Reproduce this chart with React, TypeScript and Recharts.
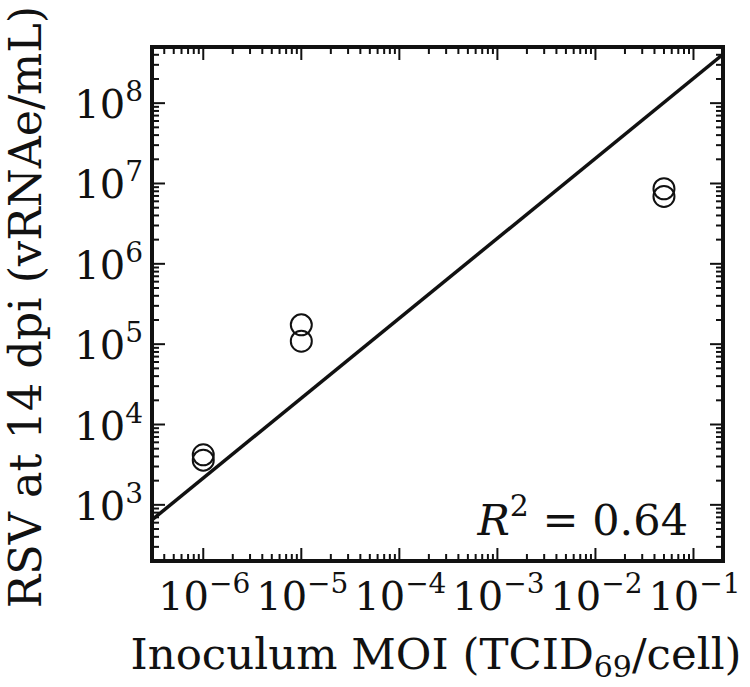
import React from 'react';
import { ScatterChart, Scatter, XAxis, YAxis, ReferenceArea } from 'recharts';

const FONT = 'DejaVu Serif';
const INK = '#111111';

// Measured samples
const moiValues = [1e-6, 1e-6, 1e-5, 1e-5, 0.05, 0.05];
const rsvValues = [4200, 3600, 174000, 109000, 8600000, 6900000];

// Fitted regression line end points
const fitMoi = [3e-7, 0.2];
const fitRsv = [650, 405000000];

// Axes
const xDomain = [3e-7, 0.2];
const yDomain = [200, 5e8];
const xMajorTicks = [1e-6, 1e-5, 1e-4, 1e-3, 1e-2, 1e-1];
const xTickExponents = ['\u22126', '\u22125', '\u22124', '\u22123', '\u22122', '\u22121'];
const yMajorTicks = [1e3, 1e4, 1e5, 1e6, 1e7, 1e8];
const yTickExponents = ['3', '4', '5', '6', '7', '8'];
const minorMultipliers = [2, 3, 4, 5, 6, 7, 8, 9];
const xDecades = [1e-7, 1e-6, 1e-5, 1e-4, 1e-3, 1e-2, 1e-1];
const yDecades = [1e2, 1e3, 1e4, 1e5, 1e6, 1e7, 1e8];

const buildTicks = (majors: number[], decades: number[], dom: number[]) => {
  const minors: number[] = [];
  decades.forEach((d) => minorMultipliers.forEach((m) => {
    const v = d * m;
    if (v > dom[0] * 1.0001 && v < dom[1] * 0.9999) minors.push(v);
  }));
  return [...majors, ...minors].sort((a, b) => a - b);
};

const xTicks = buildTicks(xMajorTicks, xDecades, xDomain);
const yTicks = buildTicks(yMajorTicks, yDecades, yDomain);

const points = moiValues.map((x, i) => ({ x, y: rsvValues[i] }));
const fitLine = fitMoi.map((x, i) => ({ x, y: fitRsv[i] }));

const majorIndex = (list: number[], v: number) =>
  list.findIndex((m) => Math.abs(m - v) / m < 1e-6);

const MAJOR = 13;
const MINOR = 7;
const TICK_FS = 40;
const SUP_FS = 28;

const BottomTick = (props: any) => {
  const { x, y, payload } = props;
  const idx = majorIndex(xMajorTicks, payload.value);
  const major = idx >= 0;
  return (
    <g>
      <line x1={x} x2={x} y1={y} y2={y - (major ? MAJOR : MINOR)} stroke={INK} strokeWidth={2} />
      {major && (
        <text x={x + 1} y={y + 49} textAnchor="middle" style={{ fontFamily: FONT }} fontSize={TICK_FS} fill={INK}>
          <tspan>10</tspan>
          <tspan fontSize={SUP_FS} dy={-17}>{xTickExponents[idx]}</tspan>
        </text>
      )}
    </g>
  );
};

const TopTick = (props: any) => {
  const { x, y, payload } = props;
  const major = majorIndex(xMajorTicks, payload.value) >= 0;
  return <line x1={x} x2={x} y1={y} y2={y + (major ? MAJOR : MINOR)} stroke={INK} strokeWidth={2} />;
};

const LeftTick = (props: any) => {
  const { x, y, payload } = props;
  const idx = majorIndex(yMajorTicks, payload.value);
  const major = idx >= 0;
  return (
    <g>
      <line x1={x} x2={x + (major ? MAJOR : MINOR)} y1={y} y2={y} stroke={INK} strokeWidth={2} />
      {major && (
        <text x={x - 9} y={y + 15} textAnchor="end" style={{ fontFamily: FONT }} fontSize={TICK_FS} fill={INK}>
          <tspan>10</tspan>
          <tspan fontSize={SUP_FS} dy={-17}>{yTickExponents[idx]}</tspan>
        </text>
      )}
    </g>
  );
};

const RightTick = (props: any) => {
  const { x, y, payload } = props;
  const major = majorIndex(yMajorTicks, payload.value) >= 0;
  return <line x1={x} x2={x - (major ? MAJOR : MINOR)} y1={y} y2={y} stroke={INK} strokeWidth={2} />;
};

const Ring = (p: any) => (
  <circle cx={p.cx} cy={p.cy} r={10.5} fill="none" stroke={INK} strokeWidth={2} />
);

export default function App() {
  return (
    <div style={{ position: 'absolute', left: 0, top: 0, width: 750, height: 687, background: '#fff' }}>
      <ScatterChart width={750} height={687} margin={{ top: 37, right: 17, bottom: 66, left: 92 }}>
        <XAxis
          xAxisId="b" dataKey="x" type="number" scale="log" domain={xDomain} allowDataOverflow
          orientation="bottom" height={60} ticks={xTicks} interval={0} tickSize={0} tickMargin={0}
          axisLine={false} tickLine={false} tick={<BottomTick />}
        />
        <XAxis
          xAxisId="t" dataKey="x" type="number" scale="log" domain={xDomain} allowDataOverflow
          orientation="top" height={10} ticks={xTicks} interval={0} tickSize={0} tickMargin={0}
          axisLine={false} tickLine={false} tick={<TopTick />}
        />
        <YAxis
          yAxisId="l" dataKey="y" type="number" scale="log" domain={yDomain} allowDataOverflow
          orientation="left" width={60} ticks={yTicks} interval={0} tickSize={0} tickMargin={0}
          axisLine={false} tickLine={false} tick={<LeftTick />}
        />
        <YAxis
          yAxisId="r" dataKey="y" type="number" scale="log" domain={yDomain} allowDataOverflow
          orientation="right" width={10} ticks={yTicks} interval={0} tickSize={0} tickMargin={0}
          axisLine={false} tickLine={false} tick={<RightTick />}
        />
        <Scatter
          xAxisId="b" yAxisId="l" data={fitLine} line={{ stroke: INK, strokeWidth: 3.5 }}
          shape={() => <g />} isAnimationActive={false}
        />
        <Scatter xAxisId="b" yAxisId="l" data={points} shape={<Ring />} isAnimationActive={false} />
        <ReferenceArea
          xAxisId="b" yAxisId="l" x1={xDomain[0]} x2={xDomain[1]} y1={yDomain[0]} y2={yDomain[1]}
          fill="none" fillOpacity={0} stroke={INK} strokeWidth={4} ifOverflow="visible"
        />
        <text x={688} y={535} textAnchor="end" style={{ fontFamily: FONT }} fontSize={43} fill={INK}>
          <tspan fontStyle="italic">R</tspan>
          <tspan fontSize={30} dy={-19}>2</tspan>
          <tspan dy={19}>{' = 0.64'}</tspan>
        </text>
        <text x={436} y={669} textAnchor="middle" style={{ fontFamily: FONT }} fontSize={43.5} fill={INK}>
          <tspan>Inoculum MOI (TCID</tspan>
          <tspan fontSize={30} dy={8}>69</tspan>
          <tspan dy={-8}>/cell)</tspan>
        </text>
        <text
          x={41} y={307} textAnchor="middle" style={{ fontFamily: FONT }} fontSize={44.5} fill={INK}
          transform="rotate(-90 41 307)"
        >
          RSV at 14 dpi (vRNAe/mL)
        </text>
      </ScatterChart>
    </div>
  );
}
